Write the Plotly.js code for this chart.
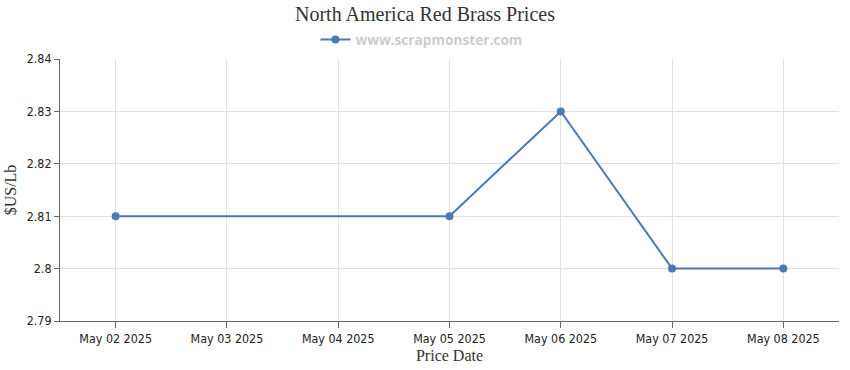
<!DOCTYPE html>
<html>
<head>
<meta charset="utf-8">
<script src="https://cdn.plot.ly/plotly-3.0.1.min.js"></script>
<style>html,body{margin:0;padding:0;background:#fff;}#chart{width:850px;height:370px;}</style>
</head>
<body>
<div id="chart"></div>
<script>
var dates = ["2025-05-02", "2025-05-05", "2025-05-06", "2025-05-07", "2025-05-08"];
var prices = [2.81, 2.81, 2.83, 2.80, 2.80];
var tickDates = ["2025-05-02", "2025-05-03", "2025-05-04", "2025-05-05", "2025-05-06", "2025-05-07", "2025-05-08"];
var tickLabels = ["May 02 2025", "May 03 2025", "May 04 2025", "May 05 2025", "May 06 2025", "May 07 2025", "May 08 2025"];
var yTicks = [2.79, 2.8, 2.81, 2.82, 2.83, 2.84];
var yTickLabels = ["2.79", "2.8", "2.81", "2.82", "2.83", "2.84"];

var trace = {
  x: dates, y: prices, type: "scatter", mode: "lines+markers",
  name: "www.scrapmonster.com",
  line: {color: "#4a7ab5", width: 2},
  marker: {color: "#4a7ab5", size: 8, symbol: "circle"}
};
var layout = {
  width: 850, height: 370,
  margin: {l: 60, r: 11, t: 59, b: 49},
  paper_bgcolor: "#fff", plot_bgcolor: "#fff",
  title: {text: "North America Red Brass Prices", x: 0.5, xanchor: "center", y: 0.982, yanchor: "top",
    font: {family: "Liberation Serif, serif", size: 20, color: "#333"}},
  showlegend: true,
  legend: {orientation: "h", x: 0.464, xanchor: "center", y: 0.935, yref: "container", yanchor: "top",
    font: {family: "Open Sans, sans-serif", size: 13.7, color: "#cccccc", weight: "bold"},
    itemwidth: 30, bgcolor: "rgba(0,0,0,0)"},
  xaxis: {
    type: "date", range: ["2025-05-01 12:00", "2025-05-08 12:00"],
    tickmode: "array", tickvals: tickDates, ticktext: tickLabels,
    showgrid: true, gridcolor: "#e0e0e0", gridwidth: 1,
    showline: true, linecolor: "#666", linewidth: 1,
    ticks: "outside", ticklen: 6, tickcolor: "#666",
    tickfont: {family: "Liberation Sans Narrow, DejaVu Sans Condensed, sans-serif", size: 12.4, color: "#222"},
    title: {text: "Price Date", standoff: 4, font: {family: "Liberation Serif, serif", size: 16, color: "#333"}},
    zeroline: false, fixedrange: true
  },
  yaxis: {
    range: [2.79, 2.84], tickmode: "array", tickvals: yTicks, ticktext: yTickLabels,
    showgrid: true, gridcolor: "#e0e0e0", gridwidth: 1,
    showline: true, linecolor: "#666", linewidth: 1,
    ticks: "outside", ticklen: 5, tickcolor: "#666",
    tickfont: {family: "Liberation Sans Narrow, DejaVu Sans Condensed, sans-serif", size: 12.4, color: "#222"},
    title: {text: "$US/Lb", standoff: 6, font: {family: "Liberation Serif, serif", size: 16, color: "#333"}},
    zeroline: false, fixedrange: true
  }
};
Plotly.newPlot("chart", [trace], layout, {displayModeBar: false, staticPlot: true});
</script>
</body>
</html>
